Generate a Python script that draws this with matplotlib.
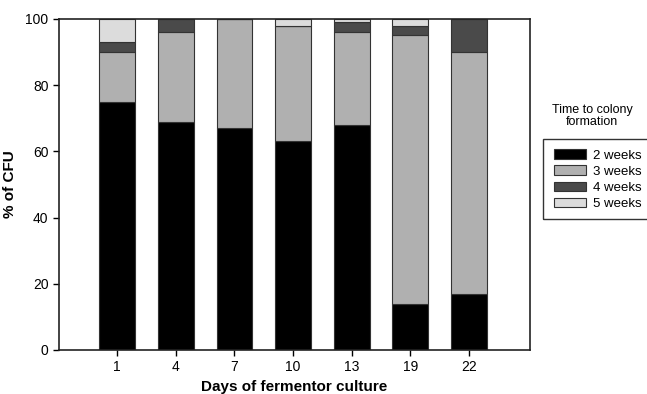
import matplotlib.pyplot as plt
import numpy as np
from matplotlib.patches import Rectangle

plt.rcParams['font.family'] = ['Liberation Sans', 'DejaVu Sans']

days = ['1', '4', '7', '10', '13', '19', '22']
series = ['2 weeks', '3 weeks', '4 weeks', '5 weeks']
week2 = [75, 69, 67, 63, 68, 14, 17]
week3 = [15, 27, 33, 35, 28, 81, 73]
week4 = [3, 4, 0, 0, 3, 3, 10]
week5 = [7, 0, 0, 2, 1, 2, 0]
colors = ['#000000', '#b0b0b0', '#4a4a4a', '#dcdcdc']

fig = plt.figure(figsize=(6.47, 3.94), dpi=100)
ax = fig.add_axes([0.0912, 0.1117, 0.728, 0.8403])

x = np.arange(len(days))
bottom = np.zeros(len(days))
handles = []
for vals, col, name in zip([week2, week3, week4, week5], colors, series):
    b = ax.bar(x, vals, 0.61, bottom=bottom, color=col, edgecolor='#333333',
               linewidth=0.8, label=name)
    handles.append(b)
    bottom += np.array(vals)

ax.set_xlim(-0.99, 7.04)
ax.set_ylim(0, 100)
ax.set_xticks(x)
ax.set_xticklabels(days, fontsize=10)
ax.set_yticks(range(0, 101, 20))
ax.tick_params(axis='y', labelsize=10, length=4, width=1)
ax.tick_params(axis='x', length=4, width=1)
for s in ax.spines.values():
    s.set_linewidth(1.2)
    s.set_color('#222222')

ax.set_ylabel('% of CFU', fontsize=11, fontweight='bold')
ax.yaxis.set_label_coords(-0.089, 0.5)
ax.set_xlabel('Days of fermentor culture', fontsize=11, fontweight='bold')
ax.xaxis.set_label_coords(0.5, -0.09)

fig.text(592 / 647, 1 - 116 / 394, 'Time to colony\nformation', ha='center', va='center',
         fontsize=9, linespacing=1.05)
fig.patches.append(Rectangle((543 / 647, 1 - 219 / 394), 0.3, 80 / 394,
                             transform=fig.transFigure, fill=False,
                             edgecolor='#333333', linewidth=1))
fig.legend(handles=handles, labels=series, loc='upper left',
           bbox_to_anchor=(549 / 647, 1 - 144 / 394), frameon=False, fontsize=9.5,
           handlelength=2.4, handleheight=0.7, labelspacing=0.3, handletextpad=0.5,
           borderaxespad=0)

fig.savefig('out.png', dpi=100)
